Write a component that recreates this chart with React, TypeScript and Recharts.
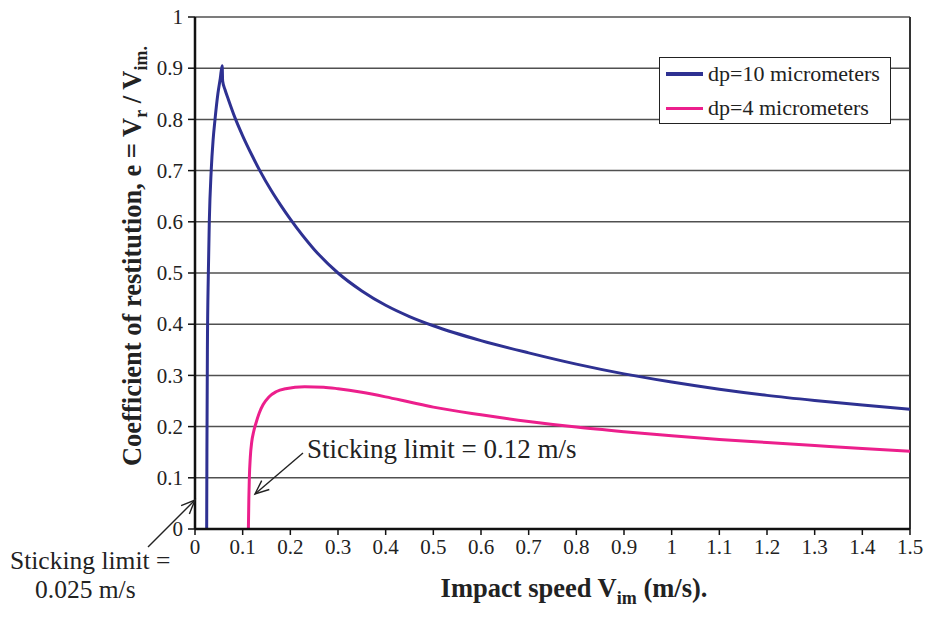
import { CartesianGrid, Line, LineChart, ReferenceLine, XAxis, YAxis } from "recharts";

// impact speed (m/s) and coefficient of restitution, dp = 10 micrometers
const speed10 = [
  0.0245, 0.025, 0.026, 0.028, 0.03, 0.034, 0.038, 0.042, 0.048, 0.053, 0.057, 0.058, 0.063, 0.07,
  0.084, 0.1, 0.12, 0.136, 0.16, 0.18, 0.2, 0.25, 0.3, 0.35, 0.4, 0.45, 0.5, 0.6, 0.7, 0.8, 0.9,
  1.0, 1.1, 1.2, 1.3, 1.4, 1.5,
];
const coef10 = [
  0, 0.15, 0.35, 0.5, 0.6, 0.7, 0.76, 0.8, 0.85, 0.88, 0.905, 0.875, 0.858, 0.839, 0.803, 0.768,
  0.729, 0.7, 0.661, 0.632, 0.605, 0.546, 0.5, 0.465, 0.437, 0.415, 0.397, 0.368, 0.344, 0.322,
  0.303, 0.287, 0.273, 0.261, 0.251, 0.242, 0.234,
];

// dp = 4 micrometers
const speed4 = [
  0.112, 0.113, 0.114, 0.116, 0.119, 0.123, 0.128, 0.135, 0.143, 0.155, 0.17, 0.19, 0.23, 0.27, 0.3,
  0.35, 0.4, 0.45, 0.5, 0.6, 0.7, 0.8, 0.9, 1.0, 1.1, 1.2, 1.3, 1.4, 1.5,
];
const coef4 = [
  0, 0.06, 0.1, 0.14, 0.17, 0.19, 0.207, 0.227, 0.243, 0.258, 0.268, 0.274, 0.278, 0.277, 0.274,
  0.267, 0.258, 0.248, 0.238, 0.223, 0.21, 0.199, 0.19, 0.182, 0.175, 0.169, 0.163, 0.157, 0.152,
];

const xTicks = [0, 0.1, 0.2, 0.3, 0.4, 0.5, 0.6, 0.7, 0.8, 0.9, 1, 1.1, 1.2, 1.3, 1.4, 1.5];
const yTicks = [0, 0.1, 0.2, 0.3, 0.4, 0.5, 0.6, 0.7, 0.8, 0.9, 1];

const seriesNames = ["dp=10 micrometers", "dp=4 micrometers"];
const seriesColors = ["#2e3192", "#ec1f8c"];

const serif = "'Liberation Serif', 'Times New Roman', serif";

const data10 = speed10.map((x, i) => ({ x, e: coef10[i] }));
const data4 = speed4.map((x, i) => ({ x, e: coef4[i] }));

const fmt = (v: number) => String(Number(v.toFixed(1)));

const XTick = ({ x, y, payload }: any) => (
  <text x={x} y={y} dy="0.71em" textAnchor="middle" fontFamily={serif} fontSize={21} fill="#222">
    {fmt(payload.value)}
  </text>
);

const YTick = ({ x, y, payload }: any) => (
  <text x={x} y={y} dy="0.34em" textAnchor="end" fontFamily={serif} fontSize={21} fill="#222">
    {fmt(payload.value)}
  </text>
);

const Arrow = ({ x1, y1, x2, y2 }: { x1: number; y1: number; x2: number; y2: number }) => {
  // open arrowhead at (x2, y2)
  const a = Math.atan2(y2 - y1, x2 - x1);
  const len = 15;
  const spread = 0.4;
  const p1 = [x2 - len * Math.cos(a - spread), y2 - len * Math.sin(a - spread)];
  const p2 = [x2 - len * Math.cos(a + spread), y2 - len * Math.sin(a + spread)];
  return (
    <g stroke="#222" strokeWidth={1.4} fill="none">
      <line x1={x1} y1={y1} x2={x2} y2={y2} />
      <polyline points={`${p1[0]},${p1[1]} ${x2},${y2} ${p2[0]},${p2[1]}`} />
    </g>
  );
};

const App = () => {
  return (
    <div style={{ position: "absolute", left: 0, top: 0, width: 932, height: 620, background: "#fff" }}>
      <LineChart width={932} height={620} margin={{ top: 17, right: 22, bottom: 61, left: 135 }}>
        <CartesianGrid vertical={false} stroke="#505050" strokeWidth={1.5} />
        <XAxis
          dataKey="x"
          type="number"
          domain={[0, 1.5]}
          ticks={xTicks}
          allowDataOverflow
          height={30}
          tickSize={6}
          tickMargin={4}
          tick={<XTick />}
          axisLine={{ stroke: "#111", strokeWidth: 2.5 }}
          tickLine={{ stroke: "#111", strokeWidth: 1.5 }}
        />
        <YAxis
          dataKey="e"
          type="number"
          domain={[0, 1]}
          ticks={yTicks}
          width={60}
          tickSize={7}
          tickMargin={5}
          tick={<YTick />}
          axisLine={{ stroke: "#111", strokeWidth: 2.5 }}
          tickLine={{ stroke: "#111", strokeWidth: 1.5 }}
        />
        <ReferenceLine x={1.5} stroke="#333" strokeWidth={2} />
        <Line
          data={data10}
          dataKey="e"
          name={seriesNames[0]}
          type="monotone"
          stroke={seriesColors[0]}
          strokeWidth={3}
          dot={false}
          isAnimationActive={false}
        />
        <Line
          data={data4}
          dataKey="e"
          name={seriesNames[1]}
          type="monotone"
          stroke={seriesColors[1]}
          strokeWidth={3}
          dot={false}
          isAnimationActive={false}
        />
      </LineChart>

      {/* legend box */}
      <div
        style={{
          position: "absolute",
          left: 659,
          top: 57,
          width: 232,
          height: 67,
          border: "1px solid #222",
          background: "#fff",
          boxSizing: "border-box",
          fontFamily: serif,
          fontSize: 22,
          color: "#222",
        }}
      >
        {seriesNames.map((name, i) => (
          <div
            key={name}
            style={{ position: "absolute", left: 6, top: i === 0 ? 3 : 37, height: 26, display: "flex", alignItems: "center" }}
          >
            <div style={{ width: 37, height: i === 0 ? 4 : 3, background: seriesColors[i], marginRight: 5 }} />
            <span style={{ whiteSpace: "nowrap" }}>{name}</span>
          </div>
        ))}
      </div>

      {/* axis titles and annotations */}
      <svg width={932} height={620} style={{ position: "absolute", left: 0, top: 0, pointerEvents: "none" }}>
        <text
          transform="translate(141, 256) rotate(-90)"
          textAnchor="middle"
          fontFamily={serif}
          fontSize={26.5}
          fontWeight="bold"
          fill="#222"
        >
          Coefficient of restitution, e = V
          <tspan fontSize={18} dy={6}>r</tspan>
          <tspan dy={-6}> / V</tspan>
          <tspan fontSize={18} dy={6}>im.</tspan>
        </text>
        <text x={574} y={597} textAnchor="middle" fontFamily={serif} fontSize={26.5} fontWeight="bold" fill="#222">
          Impact speed V
          <tspan fontSize={18} dy={7}>im</tspan>
          <tspan dy={-7}> (m/s).</tspan>
        </text>

        <text x={307} y={458} fontFamily={serif} fontSize={27} fill="#222">
          Sticking limit = 0.12 m/s
        </text>
        <Arrow x1={303} y1={453} x2={255} y2={494} />

        <text x={10} y={569} fontFamily={serif} fontSize={25.5} fill="#222">
          Sticking limit =
        </text>
        <text x={35} y={598} fontFamily={serif} fontSize={25.5} fill="#222">
          0.025 m/s
        </text>
        <Arrow x1={148} y1={547} x2={195} y2={500} />
      </svg>
    </div>
  );
};

export default App;
